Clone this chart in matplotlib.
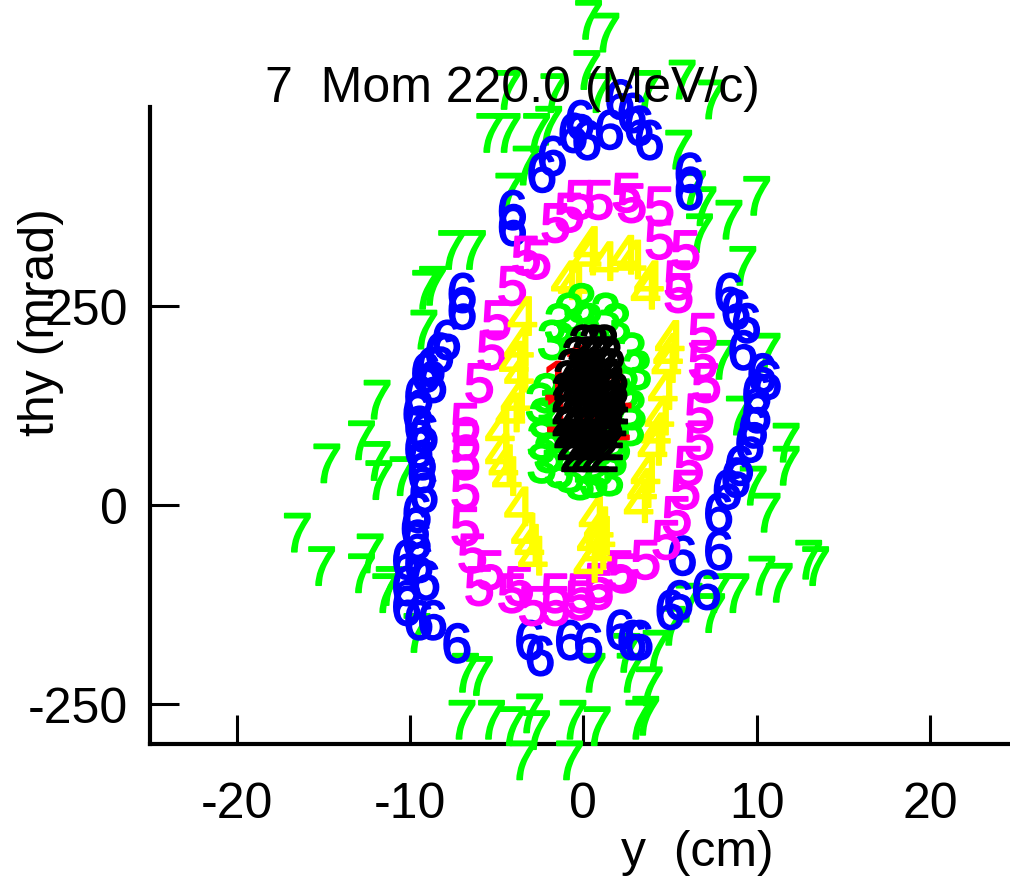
import matplotlib
matplotlib.use("Agg")
import matplotlib.pyplot as plt
import matplotlib.patheffects as pe

plt.rcParams['font.family'] = ['Liberation Sans', 'DejaVu Sans']

# ring 7 (outermost, green)
x7 = [0.3, 1.3, 0.2, -4.4, -1.7, 0.9, 3.7, 5.7, 7.4, -5.4, -4.4, -2.7, -2.0, 5.5, -3.3,
      -4.3, 6.3, 10.0, 8.4, 6.9, -7.6, -6.4, 9.2, -8.7, 6.7, -9.1, -9.2, -11.9, -12.8, -14.8,
      -11.9, -11.8, -10.4, -16.5, -15.1, -12.3, -11.2, 10.6, 8.0, 9.0, 11.7, 11.7, 9.8, 10.6,
      13.0, 13.4, 8.8, -12.8, -11.4, -9.6, -6.8, -6.0, -7.0, -5.3, -4.1, -3.1, -2.7, -3.5,
      -0.6, 0.8, -0.8, 3.2, 3.6, 3.8, 2.7, 4.2, 0.5, 5.1, 6.1, 7.4, 7.7, 10.3, 11.3, 2.5]
y7 = [603, 587, 540, 515, 511, 511, 515, 528, 503, 461, 461, 461, 470, 440, 420,
      386, 389, 382, 352, 369, 314, 314, 294, 269, 335, 264, 214, 126, 75, 46,
      49, 25, 30, -41, -83, -67, -108, 185, 176, 106, 72, 43, 18, -16,
      -75, -83, -117, -92, -117, -167, -217, -221, -276, -276, -284, -268, -289, -327,
      -276, -284, -327, -276, -271, -234, -217, -188, -217, -158, -129, -142, -117, -95, -104, -192]

# ring 6 (blue)
x6 = [2.1, -0.2, -0.6, 0.2, 1.5, 2.8, 3.2, 3.8, -1.8, -2.4, 6.1, 6.1, -4.1, -4.1,
      -7.0, -7.0, -7.9, -8.3, -9.1, -9.5, -9.6, -9.5, -9.3, -9.3, -9.6, -9.6, -9.5, -9.1,
      8.4, 8.8, 9.2, 10.6, 10.0, 10.0, 9.6, 9.0, 8.3, 7.8, 7.8, 7.1,
      -10.2, -10.2, -10.2, -9.5, -8.7, -7.3, -3.1, -2.5, -0.8, 0.3, 2.1, 2.8, 3.2, 5.0, 5.5, 5.7,
      -8.8, -8.7, -9.2, -9.5, -9.2, -9.7, 9.4, 10.3, 9.8, 8.8]
y6 = [503, 477, 461, 452, 465, 486, 470, 452, 432, 411, 411, 389, 364, 344,
      260, 239, 201, 185, 160, 131, 109, 93, 50, 34, -16, -50, -79, -101,
      260, 239, 188, 151, 134, 109, 72, 43, 13, -16, -63, -113,
      -75, -108, -133, -151, -151, -180, -176, -196, -176, -180, -163, -176, -176, -138, -126, -70,
      167, 147, 84, 65, 9, -35, 222, 159, 90, 28]

# ring 5 (magenta)
x5 = [-0.2, 0.9, 2.5, 2.8, 4.4, -1.6, -0.8, 4.4, 5.9, -3.3, -2.7, -4.1, 5.5,
      -5.0, -5.3, -6.0, -6.8, -6.8, -6.8, -6.8, -6.8, -6.4, -5.4, -3.7, -1.6, -0.1,
      5.5, 6.9, 6.9, 7.1, 6.7, 6.7, 6.1, 5.9, 5.4, 4.8, 3.6, 2.3, 0.9,
      -6.0, -4.1, -2.9, -1.6, -0.2, 0.9, 2.1]
y5 = [377, 377, 386, 373, 369, 348, 361, 327, 314, 307, 302, 269, 276,
      226, 188, 147, 97, 75, 50, 13, -33, -67, -88, -108, -117, -117,
      260, 210, 176, 147, 109, 75, 43, 13, -20, -50, -75, -92, -113,
      -108, -117, -133, -133, -126, -104, -88]

# ring 4 (yellow)
x4 = [0.2, 0.3, -1.0, 2.8, 3.8, -0.6, -3.5, -3.7, -3.7, -3.9, -4.8, -4.8, -4.4, -3.7, -3.3,
      -2.9, 0.5, 0.3, 3.6, 5.0, 4.8, 4.6, 4.4, 4.0, 3.6, 3.2, 0.9, 0.8, 1.2, 2.4,
      -4.2, -4.6, -3.1, -4.0, 4.9, 4.2, 3.4, 0.6, 1.0]
y4 = [307, 319, 276, 302, 276, 273, 231, 193, 160, 126, 88, 59, 30, -8, -41,
      -70, -50, -79, 264, 201, 172, 138, 106, 68, 34, -4, -33, -63, 300, 308,
      110, 45, -55, 175, 185, 85, 15, -20, -45]

# ring 3 (green)
x3 = [-0.1, 1.3, 1.9, -1.8, 2.8, 3.1, -2.1, -2.5, 2.8, 2.7, -2.4, -2.0, 1.9, -2.4, -0.8,
      0.9, 1.7, -0.2, 1.5, 0.3, -0.8, -1.4, 2.4, -2.3, -1.4, 0.6]
y3 = [247, 235, 222, 201, 185, 163, 134, 122, 113, 93, 75, 59, 72, 46, 34,
      43, 55, 25, 30, 222, 235, 222, 140, 103, 40, 28]

# ring 2 (black core)
x2 = [0.0, 0.6, 1.2, -0.4, 0.2, 0.8, 1.4, -0.7, -0.1, 0.5, 1.1, 1.6,
      -0.9, -0.3, 0.3, 0.9, 1.5, -1.0, -0.4, 0.2, 0.8, 1.4, 1.8,
      -1.0, -0.4, 0.2, 0.8, 1.4, 1.8, -1.0, -0.4, 0.2, 0.8, 1.4, 1.7,
      -0.9, -0.3, 0.3, 0.9, 1.5, -0.7, -0.1, 0.5, 1.1, 1.5, -0.5, 0.1, 0.7, 1.2]
y2 = [195, 195, 195, 180, 180, 180, 180, 165, 165, 165, 165, 165,
      150, 150, 150, 150, 150, 135, 135, 135, 135, 135, 135,
      120, 120, 120, 120, 120, 120, 105, 105, 105, 105, 105, 105,
      90, 90, 90, 90, 90, 75, 75, 75, 75, 75, 60, 60, 60, 60]

# ring 1 (red, mostly hidden)
x1 = [-1.5, 2.0, -1.4, 1.9, 0.2, 0.5, -0.3]
y1 = [150, 140, 110, 100, 130, 90, 170]

rings = [
    ('7', x7, y7, '#00ff00'),
    ('6', x6, y6, '#0000ff'),
    ('5', x5, y5, '#ff00ff'),
    ('4', x4, y4, '#ffff00'),
    ('3', x3, y3, '#00ff00'),
    ('1', x1, y1, '#ff0000'),
    ('2', x2, y2, '#000000'),
]

FS = 36
MS = 40

fig = plt.figure(figsize=(10.1, 8.78), dpi=100)
ax = fig.add_axes([0.1485, 0.1515, 0.8495, 0.7255])

for z, (label, xs, ys, color) in enumerate(rings):
    for x, y in zip(xs, ys):
        ax.text(x, y, label, color=color, fontsize=MS, ha='center', va='center',
                clip_on=False, zorder=3 + z,
                path_effects=[pe.withStroke(linewidth=1.2, foreground=color)])

ax.set_xlim(-25, 24.5)
ax.set_ylim(-300, 500)
ax.set_xticks([-20, -10, 0, 10, 20])
ax.set_yticks([-250, 0, 250])
ax.set_xticklabels(['-20', '-10', '0', '10', '20'])
ax.set_yticklabels(['-250', '0', '250'])

for side in ['top', 'right']:
    ax.spines[side].set_visible(False)
for side in ['left', 'bottom']:
    ax.spines[side].set_linewidth(3)
    ax.spines[side].set_zorder(1)
ax.tick_params(axis='both', direction='in', length=21, width=2.2, labelsize=FS)
ax.tick_params(axis='x', pad=27)
ax.tick_params(axis='y', pad=16)

fig.text(0.507, 1 - 102 / 878, '7  Mom 220.0 (MeV/c)', fontsize=FS,
         ha='center', va='baseline')
fig.text(0.69, 0.028, 'y  (cm)', fontsize=FS, ha='center', va='center')
fig.text(0.041, 0.633, 'thy (mrad)', fontsize=FS, rotation=90,
         ha='center', va='center')

fig.savefig('out.png', dpi=100)
